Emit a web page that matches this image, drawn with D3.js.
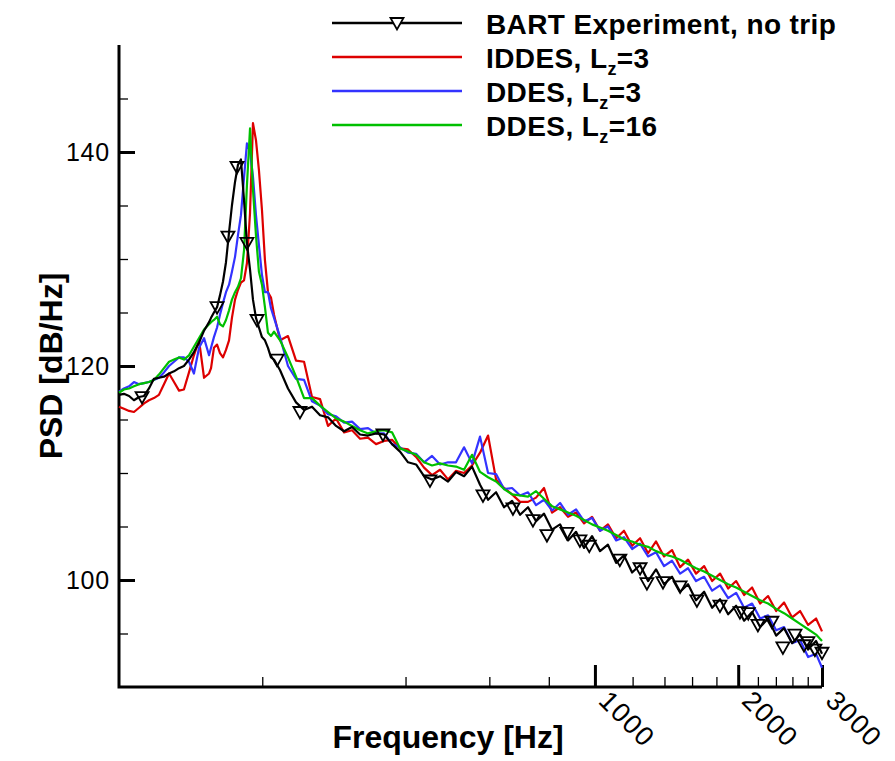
<!DOCTYPE html>
<html lang="en">
<head>
<meta charset="UTF-8">
<title>PSD spectrum</title>
<script src="https://d3js.org/d3.v7.min.js"></script>
<style>
  body { margin: 0; background: #fff; }
  svg { display: block; font-family: "Liberation Sans", Arial, Helvetica, sans-serif; }
</style>
</head>
<body>
<svg id="chart"></svg>
<script>
// frequency grid [Hz], shared by all four spectra
const freq = [
  100, 102.4, 105, 107.5, 110.2, 112.9, 115.6, 118.4, 121.3, 124.3, 127.4, 130.5, 133.7, 136.9, 140.3, 143.7, 147.3, 150.9, 154.6,
  156.1, 158.3, 160.7, 163, 165.4, 167.8, 170.3, 172.7, 175.3, 177.8, 180.4, 183.1, 185.7, 188.5, 191.2, 194, 196.8, 199.7, 202.6, 205.6, 208.6, 211.7,
  218, 226.5, 235.5, 244.8, 254.4, 264.5, 274.9, 285.8, 297.1, 308.8, 321, 333.6, 346.8, 360.5, 374.7, 389.5, 404.9, 420.9, 437.5, 454.7,
  472.7, 491.3, 510.7, 530.9, 551.8, 573.6, 596.3, 619.8, 644.2, 669.7, 696.1, 723.5, 752.1, 781.8, 812.6,
  844.7, 878, 912.7, 948.7, 986.1, 1025, 1065, 1108, 1151, 1197, 1244, 1293, 1344, 1397, 1452, 1510, 1569, 1631, 1696, 1763,
  1832, 1905, 1980, 2058, 2139, 2224, 2311, 2403, 2497, 2596, 2698, 2805, 2915, 3000
];

// BART experiment, no trip
const psdExp = [
  117.3, 117.4, 117.2, 116.8, 117.1, 117.2, 117.9, 118.8, 118.9, 119.0, 119.3, 119.5, 119.8, 120.0, 120.6, 121.3, 122.2, 123.3, 124.1,
  124.5, 125.0, 125.5, 126.6, 127.9, 129.7, 132.5, 135.0, 137.2, 138.8, 139.3, 135.5, 131.5, 129.0, 126.2, 124.5, 123.6, 122.7, 122.4, 121.7, 120.8, 120.6,
  119.6, 117.9, 116.6, 115.9, 116.2, 115.4, 115.2, 114.4, 113.9, 114.3, 113.6, 113.5, 113.7, 113.6, 112.7, 112.0, 111.0, 110.8, 109.7, 109.4,
  109.7, 109.2, 110.1, 109.7, 110.6, 108.9, 107.5, 108.2, 106.8, 107.4, 106.1, 106.8, 105.5, 106.2, 104.7,
  105.2, 103.7, 104.5, 103.0, 104.1, 102.7, 103.3, 101.6, 102.3, 100.7, 101.4, 99.9, 101.0, 99.6, 100.3, 98.9, 99.6, 98.1, 98.9, 97.4,
  98.2, 96.8, 97.6, 96.2, 97.0, 95.6, 96.4, 94.8, 95.5, 94.1, 94.9, 93.5, 94.3, 93.1
];

// IDDES, Lz=3
const psdIddes3 = [
  116.2, 116.0, 115.8, 115.7, 116.1, 116.5, 116.8, 117.0, 117.3, 118.3, 119.3, 118.5, 117.7, 117.8, 119.4, 121.0, 122.4, 118.9, 119.3,
  119.8, 121.7, 122.0, 121.2, 120.8, 121.5, 122.4, 124.5, 126.2, 127.1, 127.8, 128.0, 129.6, 134.3, 142.7, 141.1, 138.3, 134.6, 129.9, 126.9, 126.4, 124.8,
  122.4, 122.8, 120.5, 120.4, 117.1, 116.9, 114.4, 115.1, 113.8, 114.0, 113.2, 113.3, 112.7, 113.0, 113.1, 112.3, 112.2, 111.5, 110.5, 109.8,
  110.3, 109.4, 110.2, 110.0, 110.7, 111.9, 113.5, 109.4, 108.6, 108.0, 107.3, 107.3, 107.7, 108.6, 106.3,
  106.8, 105.9, 106.3, 105.3, 105.9, 104.6, 105.2, 103.9, 104.6, 103.2, 103.9, 102.5, 103.6, 102.2, 102.8, 101.2, 101.9, 100.6, 101.3, 99.9,
  100.6, 99.2, 99.9, 98.6, 99.3, 97.8, 98.5, 97.1, 97.9, 96.5, 97.1, 95.8, 96.4, 95.2
];

// DDES, Lz=3
const psdDdes3 = [
  117.6, 117.9, 118.1, 118.5, 118.3, 118.4, 118.5, 118.7, 118.9, 119.4, 120.0, 120.4, 120.8, 120.8, 120.4, 119.3, 121.7, 122.6, 121.0,
  121.7, 122.7, 123.6, 124.8, 125.9, 126.9, 127.6, 128.8, 130.2, 132.2, 134.1, 137.6, 140.8, 140.0, 137.7, 134.1, 131.3, 128.5, 126.9, 126.9, 125.4, 124.5,
  122.7, 120.0, 118.8, 118.7, 116.7, 116.3, 115.5, 115.3, 114.7, 114.8, 114.1, 114.2, 113.7, 113.7, 112.7, 112.4, 111.9, 111.8, 111.0, 111.6,
  110.8, 111.0, 111.0, 112.4, 110.9, 113.4, 110.0, 109.9, 108.5, 108.6, 107.9, 108.2, 107.0, 107.5, 106.5,
  107.2, 106.1, 106.6, 105.5, 105.8, 104.6, 105.0, 103.7, 104.0, 102.9, 103.4, 102.2, 102.6, 101.3, 101.8, 100.6, 101.1, 99.9, 100.3, 99.0,
  99.5, 98.3, 98.8, 97.4, 97.8, 96.4, 96.7, 95.3, 95.6, 94.1, 94.4, 92.8, 93.1, 91.8
];

// DDES, Lz=16
const psdDdes16 = [
  117.5, 117.8, 117.9, 118.1, 118.3, 118.4, 118.5, 118.7, 119.2, 119.8, 120.4, 120.6, 120.8, 120.6, 121.0, 121.8, 122.6, 123.4, 123.9,
  124.1, 124.3, 124.6, 123.9, 123.7, 124.3, 125.2, 126.2, 126.9, 127.4, 128.2, 130.8, 136.9, 142.2, 136.5, 132.2, 128.8, 127.6, 125.5, 123.1, 122.8, 123.2,
  122.4, 120.8, 119.0, 117.0, 117.0, 116.3, 115.7, 115.1, 114.8, 114.4, 114.0, 113.7, 113.9, 114.0, 113.8, 112.3, 112.0, 111.7, 111.0, 110.7,
  110.9, 110.7, 110.6, 110.3, 111.7, 110.1, 109.6, 109.2, 108.5, 108.0, 107.9, 107.8, 108.3, 107.6, 106.9,
  106.6, 106.3, 106.0, 105.6, 105.2, 104.9, 104.6, 104.2, 103.8, 103.6, 103.3, 103.1, 102.7, 102.4, 102.2, 101.9, 101.5, 101.1, 100.8, 100.4,
  100.0, 99.6, 99.3, 98.9, 98.5, 98.1, 97.8, 97.3, 96.9, 96.4, 95.9, 95.4, 94.9, 94.3
];

// experiment symbols
const expMarkerFreq = [111.8, 160.7, 169.4, 177.0, 185.7, 195.0, 214.8, 240.0, 358.6, 450.2, 581.8, 672.6, 740.9, 792.8, 873.4, 930.0,
  973, 1128, 1244, 1286, 1390, 1510, 1638, 1831, 2017, 2100, 2200, 2354, 2483, 2632, 2750, 2802, 2899, 3000];
const expMarkerPsd = [117.1, 125.5, 132.1, 138.6, 131.5, 124.3, 120.6, 115.7, 113.6, 109.3, 107.9, 106.7, 105.6, 104.2, 104.4, 103.7,
  103.2, 101.9, 101.1, 99.7, 99.8, 99.4, 98.1, 97.6, 97.0, 96.9, 95.8, 96.1, 93.7, 94.9, 93.9, 94.2, 93.5, 93.2];

// axis ticks
const yMajorTicks = [100, 120, 140];
const yMinorTicks = [95, 105, 110, 115, 125, 130, 135, 145];
const xMajorTicks = [1000, 2000, 3000];
const xMinorTicks = [200, 400, 600, 800, 1200, 1400, 1600, 1800, 2200, 2400, 2600, 2800];

const legendNames = ["BART Experiment, no trip", "IDDES, L", "DDES, L", "DDES, L"];
const legendSub = ["", "z", "z", "z"];
const legendTail = ["", "=3", "=3", "=16"];

const width = 895, height = 761;
const colors = { exp: "#000000", iddes: "#dd0000", ddes3: "#3333ff", ddes16: "#00c000" };

const svg = d3.select("#chart").attr("width", width).attr("height", height);

const x = d3.scaleLog().domain([100, 3000]).range([119, 822]);
const y = d3.scaleLinear().domain([90, 150]).range([687, 45]);

// y axis
svg.append("g")
  .attr("transform", "translate(119,0)")
  .call(d3.axisLeft(y).tickValues(yMinorTicks).tickSize(-9).tickSizeOuter(0).tickFormat(""))
  .call(g => g.select(".domain").remove())
  .selectAll("line").attr("stroke-width", 1.3);

const yAx = svg.append("g")
  .attr("transform", "translate(119,0)")
  .call(d3.axisLeft(y).tickValues(yMajorTicks).tickSize(-16).tickSizeOuter(0).tickPadding(9).tickFormat(d3.format("d")));
yAx.select(".domain").remove();
yAx.selectAll("line").attr("stroke-width", 3);
yAx.selectAll("text").attr("font-size", 25).attr("letter-spacing", 0.8).attr("fill", "#000");

// x axis
svg.append("g")
  .attr("transform", "translate(0,687)")
  .call(d3.axisBottom(x).tickValues(xMinorTicks).tickSize(-10).tickSizeOuter(0).tickFormat(""))
  .call(g => g.select(".domain").remove())
  .selectAll("line").attr("stroke-width", 1.3);

const xAx = svg.append("g")
  .attr("transform", "translate(0,687)")
  .call(d3.axisBottom(x).tickValues(xMajorTicks).tickSize(-22).tickSizeOuter(0).tickFormat(d3.format("d")));
xAx.select(".domain").remove();
xAx.selectAll("line").attr("stroke-width", 3);
xAx.selectAll("text")
  .attr("font-size", 27)
  .attr("letter-spacing", 1.5)
  .attr("fill", "#000")
  .attr("text-anchor", "start")
  .attr("x", 12)
  .attr("y", 0)
  .attr("dy", "0.35em")
  .attr("transform", "rotate(45)");

// axis frame (left + bottom)
svg.append("path")
  .attr("d", `M${x(100)},${y(150)}V${y(90)}H${x(3000)}`)
  .attr("fill", "none")
  .attr("stroke", "#000")
  .attr("stroke-width", 3);

// titles
svg.append("text")
  .attr("x", 448).attr("y", 748)
  .attr("text-anchor", "middle")
  .attr("font-size", 32).attr("font-weight", "bold")
  .text("Frequency [Hz]");

svg.append("text")
  .attr("transform", "translate(62,366) rotate(-90)")
  .attr("text-anchor", "middle")
  .attr("font-size", 32).attr("font-weight", "bold")
  .text("PSD [dB/Hz]");

// spectra
const line = d3.line().x(d => x(d[0])).y(d => y(d[1]));
const series = [
  { vals: psdIddes3, color: colors.iddes },
  { vals: psdDdes3, color: colors.ddes3 },
  { vals: psdDdes16, color: colors.ddes16 },
  { vals: psdExp, color: colors.exp }
];
series.forEach(s => {
  svg.append("path")
    .datum(d3.zip(freq, s.vals))
    .attr("d", line)
    .attr("fill", "none")
    .attr("stroke", s.color)
    .attr("stroke-width", 2.2)
    .attr("stroke-linejoin", "round");
});

const tri = "M-6.5,-5L6.5,-5L0,6.5Z";
svg.append("g")
  .selectAll("path")
  .data(d3.zip(expMarkerFreq, expMarkerPsd))
  .join("path")
  .attr("transform", d => `translate(${x(d[0])},${y(d[1])})`)
  .attr("d", tri)
  .attr("fill", "none")
  .attr("stroke", "#000")
  .attr("stroke-width", 1.8);

// legend
const legColors = [colors.exp, colors.iddes, colors.ddes3, colors.ddes16];
const leg = svg.append("g");
legendNames.forEach((name, i) => {
  const ly = 23 + i * 34;
  leg.append("line")
    .attr("x1", 332).attr("x2", 462).attr("y1", ly).attr("y2", ly)
    .attr("stroke", legColors[i]).attr("stroke-width", 2.5);
  if (i === 0) {
    leg.append("path")
      .attr("transform", `translate(397,${ly})`)
      .attr("d", tri)
      .attr("fill", "#fff").attr("stroke", "#000").attr("stroke-width", 1.8);
  }
  const t = leg.append("text")
    .attr("x", 486).attr("y", ly + 11)
    .attr("font-size", 28).attr("font-weight", "bold")
    .attr("letter-spacing", 0.4);
  t.append("tspan").text(name);
  if (legendSub[i]) {
    t.append("tspan").attr("font-size", 18).attr("dy", 7).text(legendSub[i]);
    t.append("tspan").attr("dy", -7).text(legendTail[i]);
  }
});
</script>
</body>
</html>
